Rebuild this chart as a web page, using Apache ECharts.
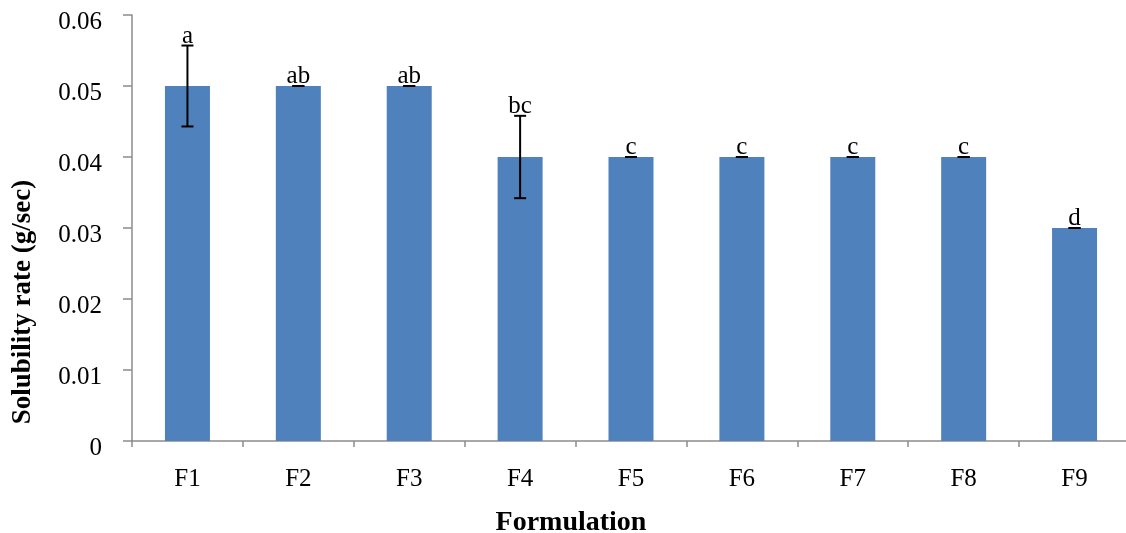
<!DOCTYPE html>
<html>
<head>
<meta charset="utf-8">
<script src="https://cdn.jsdelivr.net/npm/echarts@6/dist/echarts.min.js"></script>
<style>
html,body{margin:0;padding:0;background:#fff;overflow:hidden;}
#chart{width:1130px;height:533px;}
</style>
</head>
<body>
<div id="chart"></div>
<script>
const categories = ['F1','F2','F3','F4','F5','F6','F7','F8','F9'];
const solubility = [0.05, 0.05, 0.05, 0.04, 0.04, 0.04, 0.04, 0.04, 0.03];
const errors = [0.0057, 0, 0, 0.0058, 0, 0, 0, 0, 0];
const letters = ['a','ab','ab','bc','c','c','c','c','d'];
const yTickLabels = ['0','0.01','0.02','0.03','0.04','0.05','0.06'];

const serif = "'Liberation Serif', 'Times New Roman', serif";
const chart = echarts.init(document.getElementById('chart'));

const errData = solubility.map((v, i) => [i, v, errors[i]]);

chart.setOption({
  animation: false,
  backgroundColor: '#ffffff',
  grid: { left: 132, right: 0, top: 15, bottom: 92 },
  xAxis: {
    type: 'category',
    data: categories,
    boundaryGap: true,
    axisLine: { lineStyle: { color: '#8c8c8c', width: 1.5 } },
    axisTick: { show: true, length: 6, lineStyle: { color: '#8c8c8c', width: 1.5 } },
    axisLabel: { color: '#000', fontFamily: serif, fontSize: 25, margin: 26, verticalAlign: 'top' },
    splitLine: { show: false }
  },
  yAxis: {
    type: 'value',
    min: 0, max: 0.06, interval: 0.01,
    axisLine: { show: true, lineStyle: { color: '#8c8c8c', width: 1.5 } },
    axisTick: { show: true, length: 9, lineStyle: { color: '#8c8c8c', width: 1.5 } },
    axisLabel: {
      color: '#000', fontFamily: serif, fontSize: 25, margin: 30,
      verticalAlign: 'top', lineHeight: 14,
      formatter: (v) => yTickLabels[Math.round(v / 0.01)]
    },
    splitLine: { show: false }
  },
  graphic: [
    { type: 'text', x: 23, y: 302, rotation: Math.PI / 2,
      style: { text: 'Solubility rate (g/sec)', fontFamily: serif, fontSize: 27, fontWeight: 'bold',
               fill: '#000', textAlign: 'center', textVerticalAlign: 'middle' } },
    { type: 'text', x: 571, y: 523,
      style: { text: 'Formulation', fontFamily: serif, fontSize: 28, fontWeight: 'bold',
               fill: '#000', textAlign: 'center', textVerticalAlign: 'middle' } }
  ],
  series: [
    {
      type: 'bar',
      data: solubility,
      barWidth: 45,
      itemStyle: { color: '#4f81bd' },
      z: 2
    },
    {
      type: 'custom',
      data: errData,
      z: 5,
      renderItem: function (params, api) {
        const i = api.value(0), v = api.value(1), e = api.value(2);
        const hi = api.coord([i, v + e]);
        const lo = api.coord([i, v - e]);
        const x = hi[0];
        const cap = 6;
        const st = { stroke: '#000', lineWidth: 2 };
        return {
          type: 'group',
          children: [
            { type: 'line', shape: { x1: x, y1: hi[1], x2: x, y2: lo[1] }, style: st },
            { type: 'line', shape: { x1: x - cap, y1: hi[1], x2: x + cap, y2: hi[1] }, style: st },
            { type: 'line', shape: { x1: x - cap, y1: lo[1], x2: x + cap, y2: lo[1] }, style: st },
            { type: 'text', x: x, y: hi[1] + 3,
              style: { text: letters[params.dataIndex], fontFamily: serif, fontSize: 25, fill: '#000',
                       textAlign: 'center', textVerticalAlign: 'bottom' } }
          ]
        };
      }
    }
  ]
});
</script>
</body>
</html>
